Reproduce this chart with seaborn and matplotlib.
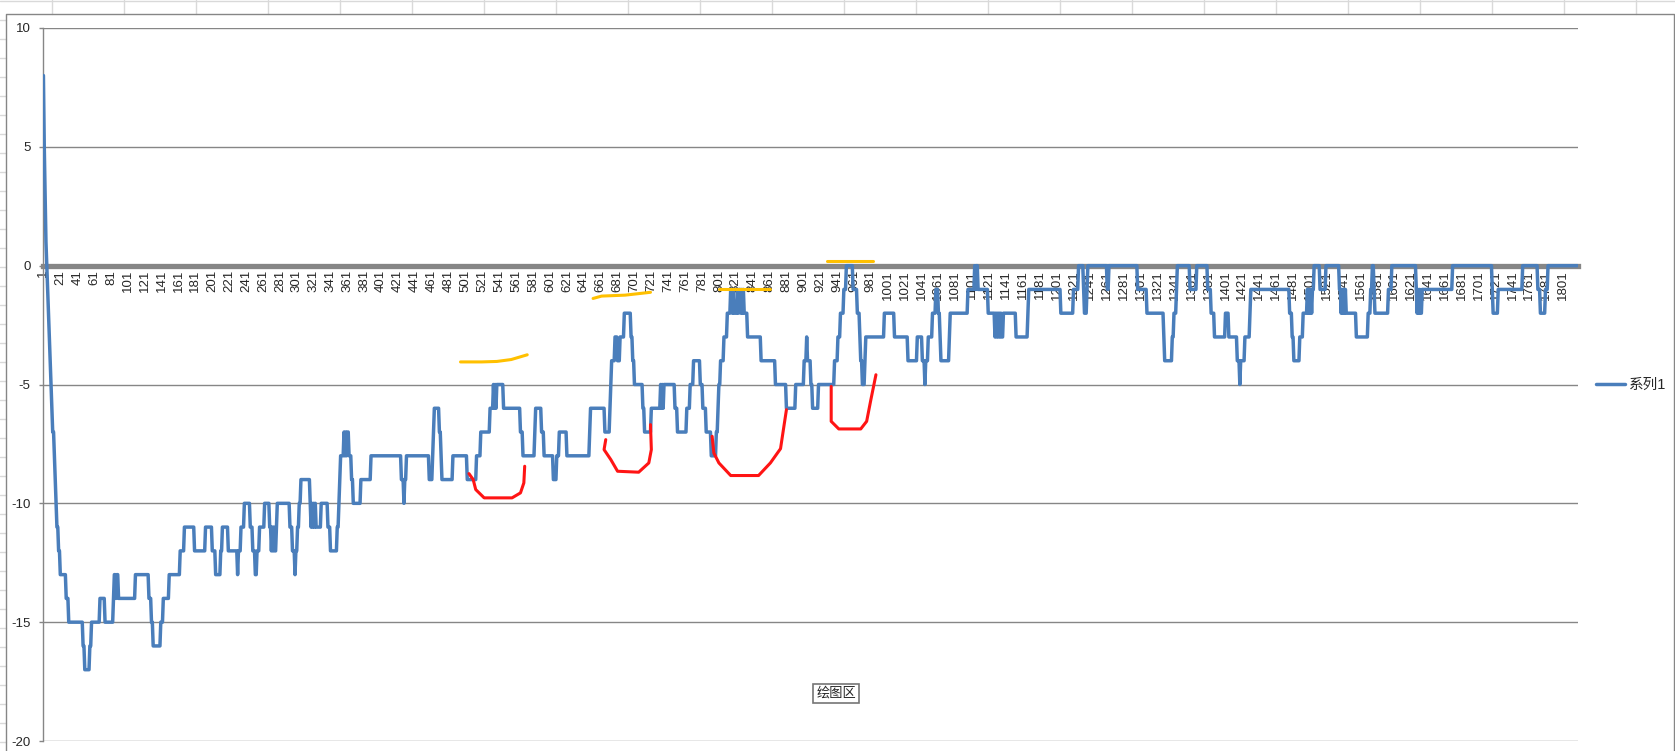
import numpy as np
import pandas as pd
import matplotlib
matplotlib.use("Agg")
import matplotlib.pyplot as plt
from matplotlib.lines import Line2D
import seaborn as sns

# series: level changes (point number where a level starts, level)
n_points = 1818
step_start = [
    1, 2, 3, 4, 5, 6, 7, 8, 9, 10, 11, 12,
    14, 15, 16, 17, 19, 21, 28, 31, 48, 50, 56, 58,
    68, 74, 84, 85, 87, 88, 90, 110, 126, 129, 131, 140,
    143, 150, 163, 168, 180, 193, 201, 205, 211, 213, 220, 231,
    232, 235, 239, 246, 249, 252, 254, 257, 263, 269, 271, 272,
    273, 274, 275, 277, 278, 293, 296, 299, 300, 302, 304, 306,
    317, 318, 319, 320, 321, 322, 323, 324, 330, 338, 341, 349,
    351, 352, 353, 357, 358, 359, 360, 361, 363, 366, 368, 377,
    389, 425, 428, 429, 431, 458, 462, 463, 464, 470, 472, 473,
    486, 503, 514, 519, 530, 534, 535, 536, 537, 538, 546, 566,
    569, 583, 584, 591, 594, 605, 609, 612, 621, 648, 649, 666,
    672, 673, 674, 678, 681, 684, 689, 697, 699, 701, 711, 713,
    721, 732, 733, 734, 735, 736, 749, 752, 763, 767, 771, 779,
    782, 786, 792, 798, 800, 801, 803, 807, 811, 815, 817, 818,
    819, 823, 824, 825, 827, 828, 829, 830, 831, 835, 851, 868,
    881, 892, 902, 905, 906, 910, 912, 919, 938, 942, 945, 949,
    952, 960, 965, 968, 969, 971, 974, 975, 997, 1009, 1025, 1036,
    1042, 1045, 1046, 1049, 1054, 1058, 1061, 1063, 1064, 1074, 1075, 1096,
    1104, 1105, 1106, 1108, 1120, 1128, 1129, 1130, 1131, 1132, 1133, 1134,
    1135, 1136, 1138, 1153, 1167, 1168, 1206, 1221, 1227, 1233, 1234, 1237,
    1238, 1261, 1263, 1297, 1308, 1328, 1329, 1338, 1340, 1343, 1344, 1359,
    1367, 1380, 1384, 1388, 1401, 1405, 1415, 1418, 1419, 1424, 1430, 1431,
    1477, 1480, 1482, 1489, 1493, 1498, 1499, 1500, 1501, 1502, 1503, 1504,
    1506, 1513, 1520, 1536, 1538, 1539, 1540, 1541, 1542, 1543, 1544, 1556,
    1570, 1573, 1575, 1577, 1578, 1594, 1598, 1627, 1628, 1629, 1630, 1631,
    1632, 1634, 1670, 1717, 1718, 1724, 1753, 1771, 1774, 1780, 1783,
]
step_value = [
    8, 5, 3, 1, 0, -1, -2, -3, -4, -5, -6, -7,
    -8, -9, -10, -11, -12, -13, -14, -15, -16, -17, -16, -15,
    -14, -15, -14, -13, -14, -13, -14, -13, -14, -15, -16, -15,
    -14, -13, -12, -11, -12, -11, -12, -13, -12, -11, -12, -13,
    -12, -11, -10, -11, -12, -13, -12, -11, -10, -11, -12, -11,
    -12, -11, -12, -11, -10, -11, -12, -13, -12, -11, -10, -9,
    -10, -11, -10, -11, -10, -11, -10, -11, -10, -11, -12, -11,
    -10, -9, -8, -7, -8, -7, -8, -7, -8, -9, -10, -9,
    -8, -9, -10, -9, -8, -9, -8, -7, -6, -7, -8, -9,
    -8, -9, -8, -7, -6, -5, -6, -5, -6, -5, -6, -7,
    -8, -7, -6, -7, -8, -9, -8, -7, -8, -7, -6, -7,
    -6, -5, -4, -3, -4, -3, -2, -3, -4, -5, -6, -7,
    -6, -5, -6, -5, -6, -5, -6, -7, -6, -5, -4, -5,
    -6, -7, -8, -7, -6, -5, -4, -3, -2, -1, -2, -1,
    -2, -1, -2, -1, -2, -1, -2, -1, -2, -3, -4, -5,
    -6, -5, -4, -3, -4, -5, -6, -5, -4, -3, -2, -1,
    0, -1, -2, -3, -4, -5, -4, -3, -2, -3, -4, -3,
    -4, -5, -4, -3, -2, -1, -2, -3, -4, -3, -2, -1,
    0, -1, 0, -1, -2, -3, -2, -3, -2, -3, -2, -3,
    -2, -3, -2, -3, -2, -1, -2, -1, 0, -1, -2, -1,
    0, -1, 0, -1, -2, -3, -4, -3, -2, -1, 0, -1,
    0, -1, -2, -3, -2, -3, -4, -5, -4, -3, -2, -1,
    -2, -3, -4, -3, -2, -1, -2, -1, -2, -1, -2, -1,
    0, -1, 0, -1, -2, -1, -2, -1, -2, -1, -2, -3,
    -2, -1, 0, -1, -2, -1, 0, -1, -2, -1, -2, -1,
    -2, -1, 0, -1, -2, -1, 0, -1, -2, -1, 0,
]

x_ticks = list(range(1, 1802, 20))
y_ticks = [-20, -15, -10, -5, 0, 5, 10]
series_name = "系列1"

# hand drawn marks on the screenshot (point number, value)
orange_marks = [
    ([495, 520, 538, 555, 574], [-4.05, -4.05, -4.03, -3.95, -3.75]),
    ([652, 662, 690, 705, 720], [-1.38, -1.28, -1.24, -1.18, -1.12]),
    ([801, 862], [-1.0, -1.0]),
    ([929, 983], [0.2, 0.2]),
]
red_marks = [
    ([505, 510, 513, 523, 556, 566, 570, 571],
     [-8.75, -9.0, -9.42, -9.77, -9.77, -9.56, -9.14, -8.44]),
    ([667, 665, 673, 681, 706, 718, 721, 720],
     [-7.32, -7.74, -8.16, -8.65, -8.69, -8.3, -7.74, -6.69]),
    ([793, 795, 801, 815, 848, 862, 874, 878, 881],
     [-7.18, -7.88, -8.3, -8.83, -8.83, -8.3, -7.7, -6.76, -6.06]),
    ([934, 934, 943, 969, 976, 981, 987],
     [-5.08, -6.55, -6.87, -6.87, -6.55, -5.64, -4.59]),
]

idx = np.arange(1, n_points + 1)
pos = np.searchsorted(step_start, idx, side="right") - 1
df = pd.DataFrame({"point": idx, "value": np.array(step_value)[pos]})

sns.set_style("white")
plt.rcParams["font.family"] = ["Liberation Sans", "Noto Sans CJK SC", "DejaVu Sans"]

W, H = 1675, 751
fig = plt.figure(figsize=(W / 100, H / 100), dpi=100)


def fx(x):
    return x / W


def fy(y):
    return 1 - y / H


# worksheet cell lines around the chart
cell_col = "#d9d9d9"
fig.add_artist(Line2D([0, 1], [fy(1), fy(1)], color=cell_col, lw=1))
for cx in range(52, W, 72):
    fig.add_artist(Line2D([fx(cx), fx(cx)], [fy(0), fy(14)], color=cell_col, lw=1))
for ry in range(20, H, 19):
    fig.add_artist(Line2D([0, fx(6)], [fy(ry), fy(ry)], color=cell_col, lw=1))
# chart area border
border = "#868686"
fig.add_artist(Line2D([fx(6), fx(6), fx(1674), fx(1674)], [fy(H), fy(14), fy(14), fy(H)],
                      color=border, lw=1))

ax = fig.add_axes([fx(43), fy(741), fx(1578) - fx(43), fy(28) - fy(741)])
ax.spines["bottom"].set_position(("data", 0))
sns.lineplot(data=df, x="point", y="value", ax=ax, color="#4a7ebb", lw=2.5,
             label=series_name, legend=False, zorder=3)

ax.set_xlim(0.5, n_points + 0.5)
ax.set_ylim(-20, 10)
ax.set_xticks(x_ticks)
ax.set_xticklabels([str(t) for t in x_ticks])
ax.set_yticks(y_ticks)
ax.set_yticklabels([str(t) for t in y_ticks])
ax.set_xlabel("")
ax.set_ylabel("")
ax.yaxis.grid(True, color="#868686", lw=1)
ax.xaxis.grid(False)
ax.set_axisbelow(True)
for s in ["top", "right"]:
    ax.spines[s].set_visible(False)
ax.spines["left"].set_color("#868686")
ax.spines["left"].set_linewidth(1)
ax.spines["bottom"].set_color("#868686")
ax.spines["bottom"].set_linewidth(3.8)
ax.tick_params(axis="x", length=0, pad=3, labelrotation=90, labelsize=9.5)
ax.tick_params(axis="y", length=3, width=1, color="#868686", pad=6, left=True,
               labelsize=9.5)

for xs, ys in orange_marks:
    ax.plot(xs, ys, color="#ffc000", lw=2.2, solid_capstyle="round", zorder=4)
for xs, ys in red_marks:
    ax.plot(xs, ys, color="#ff1414", lw=2.2, solid_capstyle="round",
            solid_joinstyle="round", zorder=4)

handles, labels = ax.get_legend_handles_labels()
fig.legend(handles[:1], labels[:1], loc="center left",
           bbox_to_anchor=(fx(1596), fy(385)), frameon=False, fontsize=10.5,
           handlelength=2.0, handletextpad=0.25, borderpad=0, borderaxespad=0)

fig.text(fx(836), fy(693.5), "绘图区", ha="center", va="center", fontsize=9.5,
         bbox=dict(boxstyle="square,pad=0.25", fc="white", ec="#767676", lw=1.2))

fig.savefig("out.png", dpi=100)
